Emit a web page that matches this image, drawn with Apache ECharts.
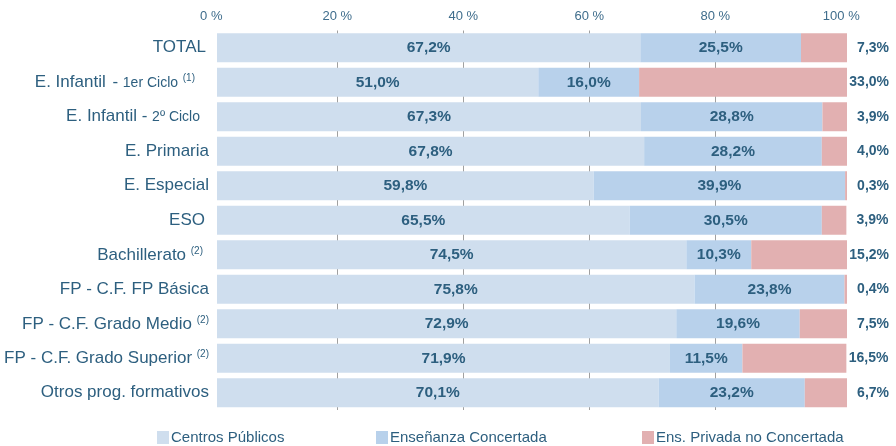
<!DOCTYPE html>
<html>
<head>
<meta charset="utf-8">
<script src="https://cdn.jsdelivr.net/npm/echarts@6/dist/echarts.min.js"></script>
<style>
  html, body { margin: 0; padding: 0; background: #fff; }
  #chart { width: 896px; height: 446px; }
</style>
</head>
<body>
<div id="chart"></div>
<script>
const categories = [
  "TOTAL",
  "E. Infantil - 1er Ciclo (1)",
  "E. Infantil - 2º Ciclo",
  "E. Primaria",
  "E. Especial",
  "ESO",
  "Bachillerato (2)",
  "FP - C.F. FP Básica",
  "FP - C.F. Grado Medio (2)",
  "FP - C.F. Grado Superior (2)",
  "Otros prog. formativos"
];
const publicos = [67.2, 51.0, 67.3, 67.8, 59.8, 65.5, 74.5, 75.8, 72.9, 71.9, 70.1];
const concertada = [25.5, 16.0, 28.8, 28.2, 39.9, 30.5, 10.3, 23.8, 19.6, 11.5, 23.2];
const privada = [7.3, 33.0, 3.9, 4.0, 0.3, 3.9, 15.2, 0.4, 7.5, 16.5, 6.7];
const xTicks = [0, 20, 40, 60, 80, 100];

const seriesNames = ["Centros Públicos", "Enseñanza Concertada", "Ens. Privada no Concertada"];
const colors = ["#cfdeee", "#b8d1eb", "#e2b0b1"];
const textColor = "#2d5f7f";
const fontFamily = "Liberation Sans, Arial, sans-serif";

// rich text for the category labels (small part + superscript note)
const richLabels = {
  "TOTAL": "{m|TOTAL}{gap3|}",
  "E. Infantil - 1er Ciclo (1)": "{m|E. Infantil} {gap2|}{m|-} {s|1er Ciclo} {sup|(1)}{gap14|}",
  "E. Infantil - 2º Ciclo": "{m|E. Infantil} {m|-} {s|2º Ciclo}{gap9|}",
  "ESO": "{m|ESO}{gap4|}",
  "Bachillerato (2)": "{m|Bachillerato} {sup|(2)}{gap6|}",
  "FP - C.F. Grado Medio (2)": "{m|FP - C.F. Grado Medio} {sup|(2)}",
  "FP - C.F. Grado Superior (2)": "{m|FP - C.F. Grado Superior} {sup|(2)}"
};

const fmt = (v) => v.toFixed(1).replace(".", ",") + "%";

const chart = echarts.init(document.getElementById("chart"));

const barLabel = {
  show: true,
  position: "inside",
  color: textColor,
  fontFamily: fontFamily,
  fontWeight: "bold",
  fontSize: 15.5,
  formatter: (p) => fmt(p.value)
};

chart.setOption({
  animation: false,
  textStyle: { fontFamily: fontFamily },
  grid: [
    { left: 211.3, width: 630, top: 30.5, bottom: 36 },
    { left: 217, width: 630, top: 30.5, bottom: 36 }
  ],
  xAxis: [
    {
      gridIndex: 0,
      type: "value",
      position: "top",
      min: xTicks[0],
      max: xTicks[xTicks.length - 1],
      interval: 20,
      axisLine: { show: false },
      axisTick: { show: false },
      axisLabel: {
        color: "#3f6d8c",
        fontSize: 13,
        margin: 8,
        formatter: "{value} %"
      },
      splitLine: {
        show: true,
        showMinLine: false,
        showMaxLine: false,
        lineStyle: { color: "#a0a0a0", width: 1 }
      }
    },
    {
      gridIndex: 1,
      type: "value",
      min: 0,
      max: 100,
      show: false
    }
  ],
  yAxis: [
    {
      gridIndex: 0,
      type: "category",
      data: categories,
      inverse: true,
      show: false
    },
    {
      gridIndex: 1,
      type: "category",
      data: categories,
      inverse: true,
      axisLine: { show: false },
      axisTick: { show: false },
      axisLabel: {
        margin: 8,
        color: textColor,
        fontSize: 17,
        formatter: (v) => richLabels[v] || v,
        rich: {
          m: { fontSize: 17, color: textColor, verticalAlign: "bottom" },
          s: { fontSize: 14, color: textColor, verticalAlign: "bottom", padding: [0, 0, 1, 0] },
          sup: { fontSize: 10, color: textColor, verticalAlign: "top", padding: [0, 0, 8, 0] },
          gap2: { width: 2 },
          gap3: { width: 3 },
          gap4: { width: 4 },
          gap6: { width: 6 },
          gap9: { width: 9 },
          gap14: { width: 14 }
        }
      }
    }
  ],
  legend: seriesNames.map((name, i) => ({
    data: [name],
    left: [152, 371, 637][i],
    top: 425,
    icon: "rect",
    itemWidth: 12,
    itemHeight: 13,
    selectedMode: false,
    textStyle: { color: textColor, fontSize: 15, padding: [0, 0, 0, -3] }
  })),
  series: [
    {
      name: seriesNames[0],
      type: "bar",
      stack: "total",
      xAxisIndex: 1,
      yAxisIndex: 1,
      barWidth: 29,
      data: publicos,
      itemStyle: { color: colors[0] },
      label: barLabel
    },
    {
      name: seriesNames[1],
      type: "bar",
      stack: "total",
      xAxisIndex: 1,
      yAxisIndex: 1,
      barWidth: 29,
      data: concertada,
      itemStyle: { color: colors[1] },
      label: barLabel
    },
    {
      name: seriesNames[2],
      type: "bar",
      stack: "total",
      xAxisIndex: 1,
      yAxisIndex: 1,
      barWidth: 29,
      data: privada,
      itemStyle: { color: colors[2] },
      label: Object.assign({}, barLabel, {
        position: "right",
        distance: 42,
        align: "right",
        fontSize: 14
      })
    }
  ]
});
</script>
</body>
</html>
